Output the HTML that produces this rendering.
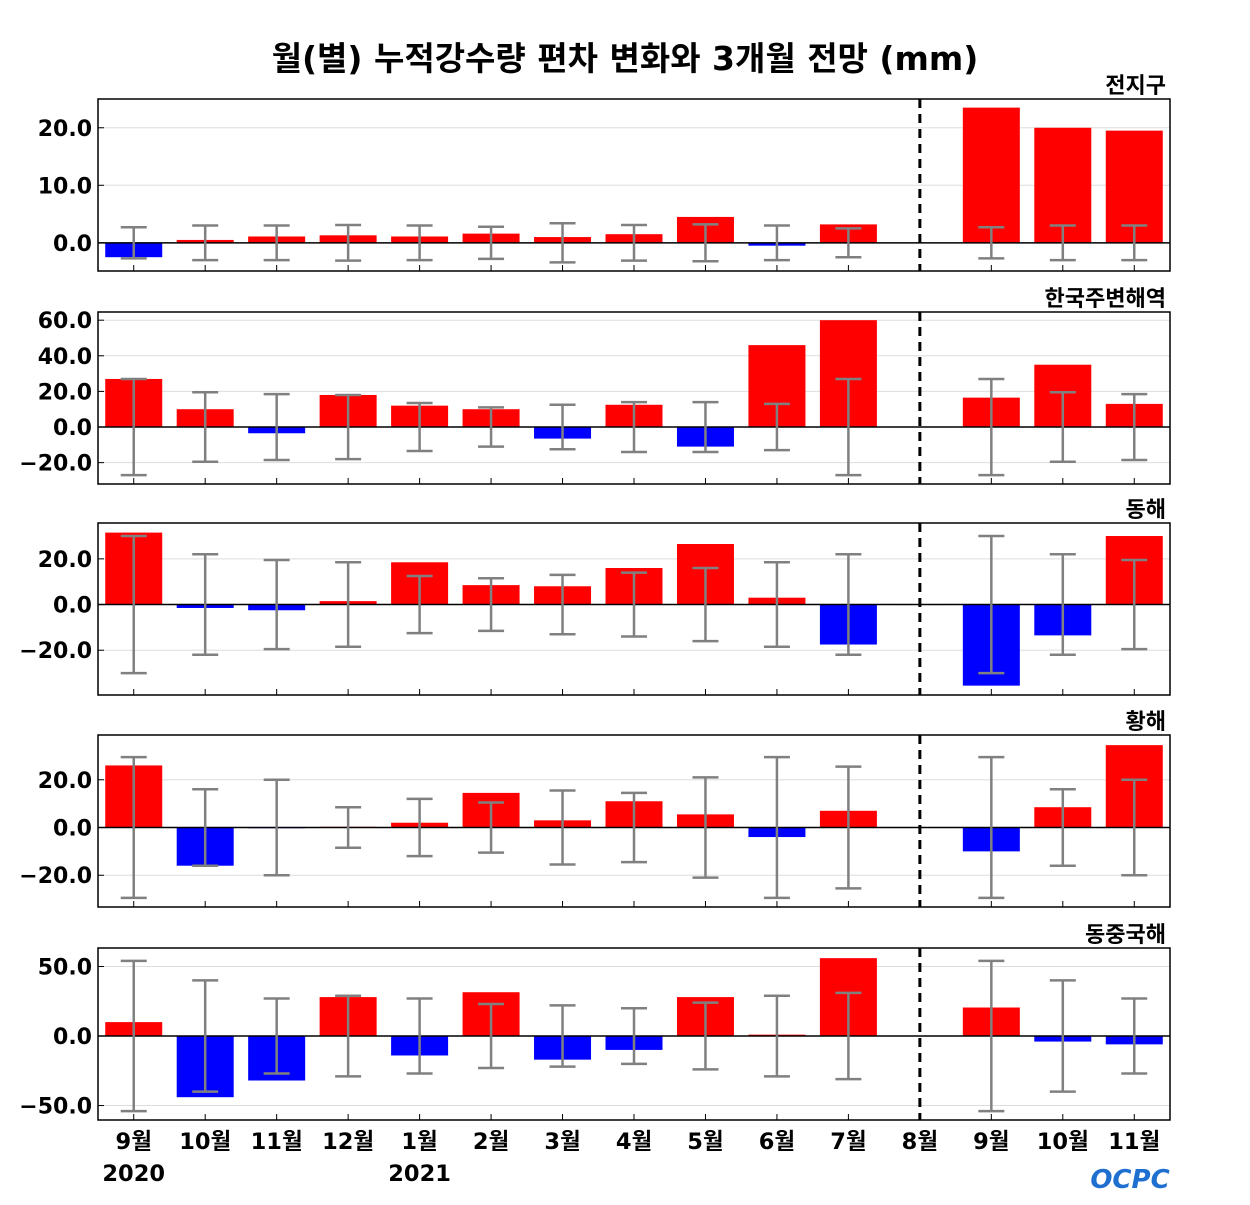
<!DOCTYPE html>
<html><head><meta charset="utf-8">
<style>
html,body{margin:0;padding:0;background:#fff;}
svg text{font-family:"DejaVu Sans","Liberation Sans","Noto Sans CJK KR",sans-serif;font-weight:bold;}
</style></head>
<body>
<svg id="chart" width="1250" height="1200" viewBox="0 0 1250 1200" xmlns="http://www.w3.org/2000/svg">
<text x="625" y="70" text-anchor="middle" font-size="33" fill="#000">월(별) 누적강수량 편차 변화와 3개월 전망 (mm)</text>
<g id="panels"></g>
<text x="1130" y="1188" text-anchor="middle" font-size="26" fill="#1e6fd0" font-style="italic">OCPC</text>
</svg>
<script>
const categories = ["9월","10월","11월","12월","1월","2월","3월","4월","5월","6월","7월","8월","9월","10월","11월"];
const yearLabels = [{idx:0,label:"2020"},{idx:4,label:"2021"}];
const regions = ["전지구","한국주변해역","동해","황해","동중국해"];
const values1 = [-2.5,0.5,1.1,1.3,1.1,1.6,1.0,1.5,4.5,-0.5,3.2,0,23.5,20,19.5];
const errors1 = [2.7,3.0,3.0,3.1,3.0,2.8,3.4,3.1,3.2,3.0,2.5,0,2.7,3.0,3.0];
const values2 = [27,10,-3.5,18,12,10,-6.5,12.5,-11,46,60,0,16.5,35,13];
const errors2 = [27,19.5,18.5,18,13.5,11,12.5,14,14,13,27,0,27,19.5,18.5];
const values3 = [31.5,-1.5,-2.5,1.5,18.5,8.5,8,16,26.5,3,-17.5,0,-35.5,-13.5,30];
const errors3 = [30,22,19.5,18.5,12.5,11.5,13,14,16,18.5,22,0,30,22,19.5];
const values4 = [26,-16,-0.3,0.3,2,14.5,3,11,5.5,-4,7,0,-10,8.5,34.5];
const errors4 = [29.5,16,20,8.5,12,10.5,15.5,14.5,21,29.5,25.5,0,29.5,16,20];
const values5 = [10,-44,-32,28,-14,31.5,-17,-10,28,1,56,0,20.5,-4,-6];
const errors5 = [54,40,27,29,27,23,22,20,24,29,31,0,54,40,27];
const ticks1 = [0,10,20];
const ticks2 = [-20,0,20,40,60];
const ticks3 = [-20,0,20];
const ticks4 = [-20,0,20];
const ticks5 = [-50,0,50];
const yRanges = [[-4.9,25],[-32,64.6],[-39.6,35.7],[-33.3,38.75],[-60.4,63.3]];

const NS="http://www.w3.org/2000/svg";
const svg=document.getElementById('panels');
function mk(tag,attrs,parent){const e=document.createElementNS(NS,tag);for(const k in attrs)e.setAttribute(k,attrs[k]);(parent||svg).appendChild(e);return e;}
const panelTops=[99,312,523,735,948];
const PH=172, X0=98, X1=1170;
const allVals=[values1,values2,values3,values4,values5];
const allErr=[errors1,errors2,errors3,errors4,errors5];
const allTicks=[ticks1,ticks2,ticks3,ticks4,ticks5];
const step=(X1-X0)/categories.length;
function xPos(i){return X0+step*(i+0.5);}
function fmt(v){return (v<0?"\u2212":"")+Math.abs(v).toFixed(1);}
regions.forEach((reg,p)=>{
  const top=panelTops[p], bot=top+PH, [lo,hi]=yRanges[p];
  const y=v=>bot-(v-lo)/(hi-lo)*PH;
  const g=mk('g',{});
  
  
  const t=mk('text',{x:1166,y:top-6,'text-anchor':'end','font-size':22,fill:'#000'},g);
  t.textContent=reg;
  
  
  allTicks[p].forEach(v=>{
    const gl=mk('line',{x1:X0,x2:X1,y1:y(v),y2:y(v),stroke:'#ddd','stroke-width':1},g);
    
    
    mk('line',{x1:X0,x2:X0+6,y1:y(v),y2:y(v),stroke:'#000','stroke-width':1},g);
    const tl=mk('text',{x:92,y:y(v)+8,'text-anchor':'end','font-size':22,fill:'#000'},g);
    tl.textContent=fmt(v);
    
    
  });
  allVals[p].forEach((v,i)=>{
    const cx=xPos(i);
    const r=mk('rect',{x:cx-28.5,width:57,y:Math.min(y(v),y(0)),height:Math.max(Math.abs(y(v)-y(0)),0.5),fill:v>=0?'#ff0000':'#0000ff'},g);
    
    
  });
  mk('line',{x1:X0,x2:X1,y1:y(0),y2:y(0),stroke:'#000','stroke-width':1.5},g);
  allErr[p].forEach((e,i)=>{
    if(e<=0)return;
    const cx=xPos(i);
    const eb=mk('path',{d:`M${cx},${y(e)}V${y(-e)}M${cx-13},${y(e)}H${cx+13}M${cx-13},${y(-e)}H${cx+13}`,stroke:'#808080','stroke-width':2.5,fill:'none'},g);
    
    
  });
  categories.forEach((c,i)=>mk('line',{x1:xPos(i),x2:xPos(i),y1:bot,y2:bot-6,stroke:'#000','stroke-width':1},g));
  mk('line',{x1:xPos(11),x2:xPos(11),y1:top,y2:bot,stroke:'#000','stroke-width':3,'stroke-dasharray':'9,6'},g);
  mk('rect',{x:X0,y:top,width:X1-X0,height:PH,fill:'none',stroke:'#000','stroke-width':1.5},g);
});
categories.forEach((c,i)=>{
  const t=mk('text',{x:xPos(i),y:1149,'text-anchor':'middle','font-size':22.5,fill:'#000'});
  t.textContent=c;
  
  
});
yearLabels.forEach(yl=>{
  const t=mk('text',{x:xPos(yl.idx),y:1181,'text-anchor':'middle','font-size':22.5,fill:'#000'});
  t.textContent=yl.label;
  
  
});
</script>
</body></html>
